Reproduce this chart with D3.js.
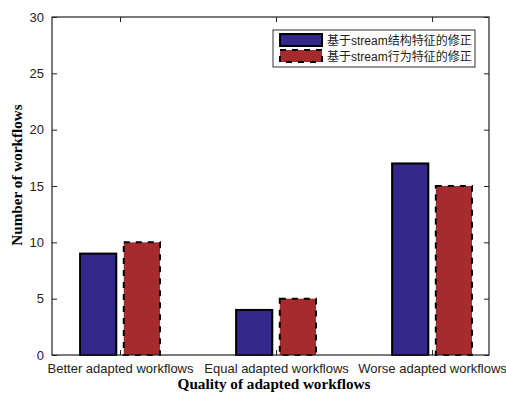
<!DOCTYPE html>
<html>
<head>
<meta charset="utf-8">
<script src="https://cdn.jsdelivr.net/npm/d3@7"></script>
<style>
  body { margin: 0; background: #fff; }
  svg { display: block; }
</style>
</head>
<body>
<svg id="chart"></svg>
<script>
var categories = ["Better adapted workflows", "Equal adapted workflows", "Worse adapted workflows"];
var seriesNames = ["基于stream结构特征的修正", "基于stream行为特征的修正"];
var structureValues = [9, 4, 17];
var behaviourValues = [10, 5, 15];
var yTicks = [0, 5, 10, 15, 20, 25, 30];

var width = 506,
  height = 396;
var padL = 52, padR = 489, padT = 17, padB = 355;

var svg = d3.select("#chart")
  .attr("width", width)
  .attr("height", height);

var x = d3.scaleLinear().domain([0.564, 3.365]).range([padL, padR]);
var y = d3.scaleLinear().domain([0, 30]).range([padB, padT]);

var barW = 0.232, off = 0.14;
var colors = ["#34288a", "#a62b2d"];

// bars
var groups = categories.map(function(c, i) { return i + 1; });

svg.selectAll(".bar-a").data(structureValues).enter().append("rect")
  .attr("x", function(d, i) { return x(groups[i] - off - barW / 2); })
  .attr("y", function(d) { return y(d); })
  .attr("width", x(barW) - x(0))
  .attr("height", function(d) { return y(0) - y(d); })
  .attr("fill", colors[0])
  .attr("stroke", "#000")
  .attr("stroke-width", 2);

svg.selectAll(".bar-b").data(behaviourValues).enter().append("rect")
  .attr("x", function(d, i) { return x(groups[i] + off - barW / 2); })
  .attr("y", function(d) { return y(d); })
  .attr("width", x(barW) - x(0))
  .attr("height", function(d) { return y(0) - y(d); })
  .attr("fill", colors[1])
  .attr("stroke", "#000")
  .attr("stroke-width", 2)
  .attr("stroke-dasharray", "6,6");

// axes
var yAxis = d3.axisLeft(y).tickValues(yTicks).tickSizeInner(-5).tickSizeOuter(0).tickPadding(8);
var gy = svg.append("g").attr("transform", "translate(" + padL + ",0)").call(yAxis);
var gyr = svg.append("g").attr("transform", "translate(" + padR + ",0)")
  .call(d3.axisRight(y).tickValues(yTicks).tickSizeInner(-5).tickSizeOuter(0).tickFormat(""));
var xAxis = d3.axisBottom(x).tickValues(groups).tickSizeInner(-5).tickSizeOuter(0).tickPadding(9)
  .tickFormat(function(d) { return categories[d - 1]; });
var gx = svg.append("g").attr("transform", "translate(0," + padB + ")").call(xAxis);
var gxt = svg.append("g").attr("transform", "translate(0," + padT + ")")
  .call(d3.axisTop(x).tickValues(groups).tickSizeInner(-5).tickSizeOuter(0).tickFormat(""));

[gy, gyr, gx, gxt].forEach(function(g) {
  g.select(".domain").remove();
  g.selectAll("line").attr("stroke", "#222");
  g.selectAll("text")
    .attr("font-family", "Liberation Sans, Arial, sans-serif")
    .attr("font-size", 13)
    .attr("fill", "#222");
});

svg.append("rect")
  .attr("x", padL).attr("y", padT)
  .attr("width", padR - padL).attr("height", padB - padT)
  .attr("fill", "none").attr("stroke", "#222").attr("stroke-width", 1.2);

// axis titles
svg.append("text")
  .attr("x", 274).attr("y", 389)
  .attr("text-anchor", "middle")
  .attr("font-family", "Liberation Serif, Times New Roman, serif")
  .attr("font-weight", "bold").attr("font-size", 15.2)
  .text("Quality of adapted workflows");

svg.append("text")
  .attr("transform", "translate(22,175) rotate(-90)")
  .attr("text-anchor", "middle")
  .attr("font-family", "Liberation Serif, Times New Roman, serif")
  .attr("font-weight", "bold").attr("font-size", 15.2)
  .text("Number of workflows");

// legend
var lg = svg.append("g").attr("transform", "translate(273,30)");
lg.append("rect").attr("width", 202).attr("height", 37)
  .attr("fill", "#fff").attr("stroke", "#333").attr("stroke-width", 1);
seriesNames.forEach(function(name, i) {
  lg.append("rect")
    .attr("x", 7).attr("y", 4 + i * 16)
    .attr("width", 42).attr("height", 12)
    .attr("fill", colors[i]).attr("stroke", "#000").attr("stroke-width", 2)
    .attr("stroke-dasharray", i === 1 ? "6,6" : null);
  lg.append("text")
    .attr("x", 54).attr("y", 14.5 + i * 16)
    .attr("font-family", "Liberation Sans, Noto Sans CJK SC, sans-serif")
    .attr("font-size", 12)
    .attr("fill", "#222")
    .text(name);
});
</script>
</body>
</html>
